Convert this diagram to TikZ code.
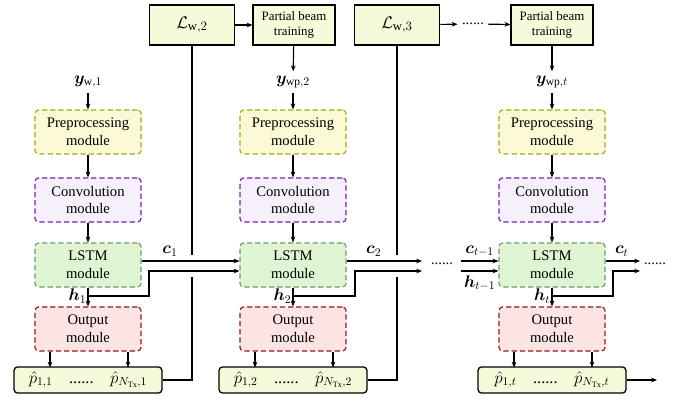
\documentclass[tikz,border=0pt]{standalone}
\usepackage{amsmath,bm}
\usepackage{fontspec}
\setmainfont{Liberation Serif}
\usetikzlibrary{arrows.meta,calc}
\definecolor{prefill}{RGB}{252,250,214}
\definecolor{preline}{RGB}{170,168,20}
\definecolor{convfill}{RGB}{246,240,252}
\definecolor{convline}{RGB}{125,30,170}
\definecolor{lstmfill}{RGB}{222,244,211}
\definecolor{lstmline}{RGB}{118,148,108}
\definecolor{outfill}{RGB}{253,228,228}
\definecolor{outline}{RGB}{140,26,26}
\definecolor{lossfill}{RGB}{245,250,218}
\begin{document}
\begin{tikzpicture}[x=0.03cm,y=-0.03cm,>={Stealth[length=5pt,width=4pt]},
    line width=1pt,font=\fontsize{12.5}{15}\selectfont,
    lab/.style={font=\fontsize{14}{16}\selectfont},
    module/.style={draw,dash pattern=on 4.5pt off 2.5pt,rounded corners=3pt,
      minimum width=3.18cm,minimum height=1.32cm,align=center,line width=1pt},
    prebox/.style={module,draw=preline,fill=prefill},
    convbox/.style={module,draw=convline,fill=convfill},
    lstmbox/.style={module,draw=lstmline,fill=lstmfill},
    outbox/.style={module,draw=outline,fill=outfill},
    lossbox/.style={draw,fill=lossfill,line width=1.3pt,minimum width=2.55cm,
      minimum height=1.2cm,font=\fontsize{15.5}{18}\selectfont},
    beambox/.style={draw,fill=lossfill,line width=1.3pt,minimum width=2.45cm,
      minimum height=1.2cm,align=center,font=\fontsize{11}{13.5}\selectfont},
    probbox/.style={draw,fill=lossfill,rounded corners=3pt,line width=1.1pt,
      minimum width=4.44cm,minimum height=0.78cm,lab}]
  \useasboundingbox (0,0) rectangle (678,403);
  % module stacks
  \foreach \i/\x/\ylab/\k in {1/88/{\bm{y}_{\mathrm{w},1}}/1,
      2/293/{\bm{y}_{\mathrm{wp},2}}/2, 3/552/{\bm{y}_{\mathrm{wp},t}}/t}{
    \node[lab] (y\i) at (\x,82) {$\ylab$};
    \node[prebox] (pre\i) at (\x,132) {Preprocessing\\module};
    \node[convbox] (conv\i) at (\x,200) {Convolution\\module};
    \node[lstmbox] (lstm\i) at (\x,265) {LSTM\\module};
    \node[outbox] (out\i) at (\x,329) {Output\\module};
    \node[probbox] (p\i) at (\x,380)
      {$\hat{p}_{1,\k}$\quad......\quad$\hat{p}_{N_{\mathrm{Tx}},\k}$};
    \coordinate (h\i) at (\x,296);
    \draw[->] (y\i) -- (pre\i);
    \draw[->] (pre\i) -- (conv\i);
    \draw[->] (conv\i) -- (lstm\i);
    \draw[->] (lstm\i) -- (out\i);
    \draw[->] ($(out\i.south)+(-38,0)$) -- ($(out\i.south)+(-38,16)$);
    \draw[->] ($(out\i.south)+(40,0)$) -- ($(out\i.south)+(40,16)$);
  }
  % top row
  \node[lossbox] (loss2) at (192,25) {$\mathcal{L}_{\mathrm{w},2}$};
  \node[beambox] (beam2) at (294,25) {Partial beam\\training};
  \node[lossbox] (loss3) at (397,25) {$\mathcal{L}_{\mathrm{w},3}$};
  \node (dots0) at (473,24) {......};
  \node[beambox] (beam3) at (552,25) {Partial beam\\training};
  \draw[->] (loss2) -- (beam2);
  \draw[->] (beam2) -- (y2);
  \draw[->] (loss3) -- (dots0);
  \draw[->] (dots0) -- (beam3);
  \draw[->] (beam3) -- (y3);
  % loss feedback
  \draw (loss2) -- (192,255);
  \draw (192,277) |- (p1.east);
  \draw (loss3) -- (397,255);
  \draw (397,277) |- (p2.east);
  % cell and hidden states
  \coordinate (c2end) at (422,261);
  \coordinate (h2end) at (422,271);
  \coordinate (cin) at (461,261);
  \coordinate (hin) at (461,271);
  \coordinate (c3end) at (640,261);
  \coordinate (h3end) at (640,271);
  \coordinate (pend) at (657,380);
  \node (dots1) at (442,264) {......};
  \node (dots2) at (655,264) {......};
  \draw[->] ([yshift=0.12cm]lstm1.east) -- node[above,pos=0.29,lab] {$\bm{c}_1$}
    ([yshift=0.12cm]lstm2.west);
  \draw[->] (h1) -| (149,271) -- ([yshift=-0.18cm]lstm2.west);
  \node[left,inner sep=1pt,lab] at (h1) {$\bm{h}_1$};
  \draw[->] ([yshift=0.12cm]lstm2.east) -- node[above,pos=0.36,lab] {$\bm{c}_2$} (c2end);
  \draw[->] (h2) -| (355,271) -- (h2end);
  \node[left,inner sep=1pt,lab] at (h2) {$\bm{h}_2$};
  \draw[->] (cin) -- node[above,lab] {$\bm{c}_{t-1}$} ([yshift=0.12cm]lstm3.west);
  \draw[->] (hin) -- node[below,lab] {$\bm{h}_{t-1}$} ([yshift=-0.18cm]lstm3.west);
  \draw[->] ([yshift=0.12cm]lstm3.east) -- node[above,pos=0.47,lab] {$\bm{c}_t$} (c3end);
  \draw[->] (h3) -| (613,271) -- (h3end);
  \node[left,inner sep=1pt,lab] at (h3) {$\bm{h}_t$};
  \draw[->] (p3) -- (pend);
\end{tikzpicture}
\end{document}
